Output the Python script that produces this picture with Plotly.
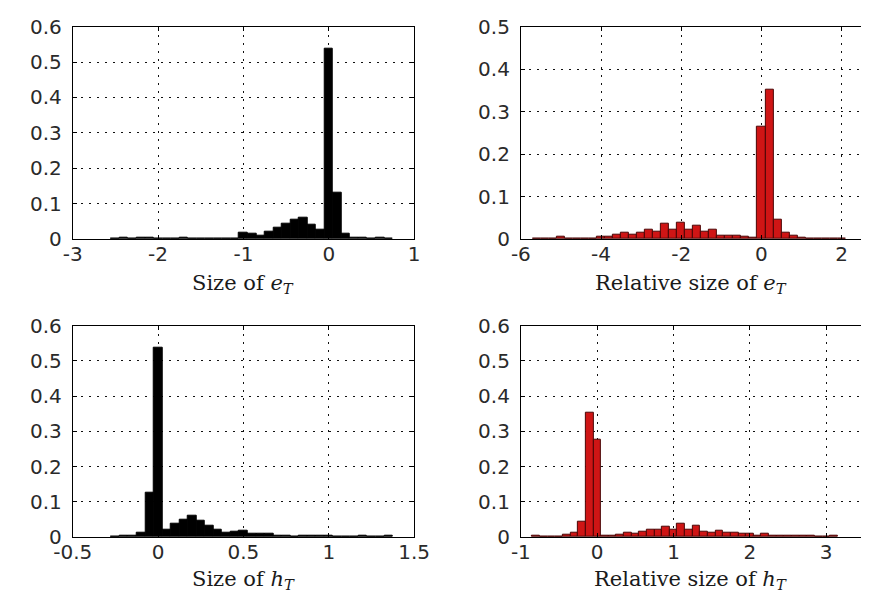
import plotly.graph_objects as go

# ---------------- data ----------------
# Top-left: Size of e_T (bin width 0.1)
e_size_centers = [-2.5, -2.4, -2.3, -2.2, -2.1, -2.0, -1.9, -1.8, -1.7, -1.6, -1.5, -1.4, -1.3, -1.2, -1.1,
                  -1.0, -0.9, -0.8, -0.7, -0.6, -0.5, -0.4, -0.3, -0.2, -0.1, 0.0, 0.1, 0.2, 0.3, 0.4,
                  0.5, 0.6, 0.7]
e_size_freq = [0.0, 0.003, 0.0, 0.003, 0.003, 0.0, 0.0, 0.0, 0.003, 0.0, 0.002, 0.002, 0.002, 0.002, 0.002,
               0.019, 0.015, 0.011, 0.022, 0.033, 0.043, 0.056, 0.061, 0.041, 0.027, 0.538, 0.130, 0.015, 0.005, 0.005,
               0.002, 0.005, 0.001]

# Top-right: Relative size of e_T (bin width 0.2)
e_rel_centers = [-5.6, -5.4, -5.2, -5.0, -4.8, -4.6, -4.4, -4.2, -4.0, -3.8, -3.6, -3.4, -3.2, -3.0,
                 -2.8, -2.6, -2.4, -2.2, -2.0, -1.8, -1.6, -1.4, -1.2, -1.0, -0.8, -0.6, -0.4, -0.2,
                 0.0, 0.2, 0.4, 0.6, 0.8, 1.0, 1.2, 1.4, 1.6, 1.8, 2.0]
e_rel_freq = [0.0, 0.002, 0.0, 0.006, 0.002, 0.002, 0.002, 0.002, 0.006, 0.006, 0.011, 0.014, 0.011, 0.014,
              0.021, 0.017, 0.036, 0.023, 0.039, 0.023, 0.032, 0.017, 0.021, 0.008, 0.008, 0.008, 0.006, 0.003,
              0.265, 0.351, 0.046, 0.014, 0.007, 0.003, 0.002, 0.001, 0.0, 0.0, 0.002]

# Bottom-left: Size of h_T (bin width 0.05)
h_size_centers = [-0.25, -0.2, -0.15, -0.1, -0.05, 0.0, 0.05, 0.1, 0.15, 0.2, 0.25, 0.3, 0.35, 0.4, 0.45,
                  0.5, 0.55, 0.6, 0.65, 0.7, 0.75, 0.8, 0.85, 0.9, 0.95, 1.0, 1.05, 1.1, 1.15, 1.2, 1.25,
                  1.3, 1.35]
h_size_freq = [0.0, 0.004, 0.004, 0.013, 0.127, 0.538, 0.021, 0.038, 0.048, 0.059, 0.045, 0.033, 0.021, 0.012, 0.014,
               0.018, 0.010, 0.010, 0.009, 0.004, 0.004, 0.001, 0.004, 0.004, 0.004, 0.005, 0.001, 0.0, 0.0, 0.004, 0.0,
               0.0, 0.004]

# Bottom-right: Relative size of h_T (bin width 0.1)
h_rel_centers = [-0.8, -0.7, -0.6, -0.5, -0.4, -0.3, -0.2, -0.1, 0.0, 0.1, 0.2, 0.3, 0.4, 0.5, 0.6, 0.7,
                 0.8, 0.9, 1.0, 1.1, 1.2, 1.3, 1.4, 1.5, 1.6, 1.7, 1.8, 1.9, 2.0, 2.1, 2.2, 2.3, 2.4,
                 2.5, 2.6, 2.7, 2.8, 2.9, 3.0, 3.1]
h_rel_freq = [0.004, 0.001, 0.001, 0.002, 0.006, 0.013, 0.043, 0.352, 0.276, 0.003, 0.003, 0.007, 0.012, 0.008,
              0.016, 0.020, 0.020, 0.029, 0.020, 0.038, 0.020, 0.033, 0.016, 0.012, 0.018, 0.013, 0.013, 0.008,
              0.008, 0.004, 0.010, 0.004, 0.003, 0.003, 0.003, 0.003, 0.003, 0.0, 0.0, 0.003]

# tick labels
tl_xticks = [-3, -2, -1, 0, 1]
tl_xtext = ["-3", "-2", "-1", "0", "1"]
tr_xticks = [-6, -4, -2, 0, 2]
tr_xtext = ["-6", "-4", "-2", "0", "2"]
bl_xticks = [-0.5, 0, 0.5, 1, 1.5]
bl_xtext = ["-0.5", "0", "0.5", "1", "1.5"]
br_xticks = [-1, 0, 1, 2, 3]
br_xtext = ["-1", "0", "1", "2", "3"]
y6_ticks = [0, 0.1, 0.2, 0.3, 0.4, 0.5, 0.6]
y6_text = ["0", "0.1", "0.2", "0.3", "0.4", "0.5", "0.6"]
y5_ticks = [0, 0.1, 0.2, 0.3, 0.4, 0.5]
y5_text = ["0", "0.1", "0.2", "0.3", "0.4", "0.5"]

titles = ["Size of <i>e</i><sub><i>T</i></sub>",
          "Relative size of <i>e</i><sub><i>T</i></sub>",
          "Size of <i>h</i><sub><i>T</i></sub>",
          "Relative size of <i>h</i><sub><i>T</i></sub>"]

# ---------------- figure ----------------
W, H = 877, 604
BLACK_FILL, BLACK_EDGE = "#000000", "#000000"
RED_FILL, RED_EDGE = "#cf1515", "#4a0606"

fig = go.Figure()
fig.add_trace(go.Bar(x=e_size_centers, y=e_size_freq, width=0.1, xaxis="x", yaxis="y",
                     marker=dict(color=BLACK_FILL, line=dict(color=BLACK_EDGE, width=1))))
fig.add_trace(go.Bar(x=e_rel_centers, y=e_rel_freq, width=0.2, xaxis="x2", yaxis="y2",
                     marker=dict(color=RED_FILL, line=dict(color=RED_EDGE, width=1))))
fig.add_trace(go.Bar(x=h_size_centers, y=h_size_freq, width=0.05, xaxis="x3", yaxis="y3",
                     marker=dict(color=BLACK_FILL, line=dict(color=BLACK_EDGE, width=1))))
fig.add_trace(go.Bar(x=h_rel_centers, y=h_rel_freq, width=0.1, xaxis="x4", yaxis="y4",
                     marker=dict(color=RED_FILL, line=dict(color=RED_EDGE, width=1))))

tickfont = dict(family="DejaVu Sans", size=20, color="#2a2a2a")
grid = dict(showgrid=True, gridcolor="#111111", gridwidth=1, griddash="2px,6px",
            zeroline=False, showline=True, linecolor="#000000", linewidth=1,
            ticks="inside", ticklen=4, tickcolor="#000000", tickfont=tickfont)

x_left = [55 / W, 411 / W]
x_right = [522.3 / W, 1.0]
y_top = [1 - 236.5 / H, 1 - 15.3 / H]
y_bot = [1 - 546.7 / H, 1 - 326.7 / H]

XS = -3  # x tick label standoff
YS = 6   # y tick label standoff

fig.update_layout(
    width=W, height=H,
    margin=dict(l=0, r=0, t=0, b=0),
    paper_bgcolor="white", plot_bgcolor="white",
    showlegend=False, bargap=0,
    xaxis=dict(domain=x_left, anchor="y", range=[-3, 1], tickvals=tl_xticks, ticktext=tl_xtext,
               mirror="ticks", ticklabelstandoff=XS, **grid),
    yaxis=dict(domain=y_top, anchor="x", range=[0, 0.6], tickvals=y6_ticks, ticktext=y6_text,
               mirror="ticks", ticklabelstandoff=YS, **grid),
    xaxis2=dict(domain=x_right, anchor="y2", range=[-6, 2.486], tickvals=tr_xticks, ticktext=tr_xtext,
                mirror="ticks", ticklabelstandoff=XS, **grid),
    yaxis2=dict(domain=y_top, anchor="x2", range=[0, 0.5], tickvals=y5_ticks, ticktext=y5_text,
                mirror=False, ticklabelstandoff=YS, **grid),
    xaxis3=dict(domain=x_left, anchor="y3", range=[-0.5, 1.5], tickvals=bl_xticks, ticktext=bl_xtext,
                mirror="ticks", ticklabelstandoff=XS, **grid),
    yaxis3=dict(domain=y_bot, anchor="x3", range=[0, 0.6], tickvals=y6_ticks, ticktext=y6_text,
                mirror="ticks", ticklabelstandoff=YS, **grid),
    xaxis4=dict(domain=x_right, anchor="y4", range=[-1, 3.456], tickvals=br_xticks, ticktext=br_xtext,
                mirror="ticks", ticklabelstandoff=XS, **grid),
    yaxis4=dict(domain=y_bot, anchor="x4", range=[0, 0.6], tickvals=y6_ticks, ticktext=y6_text,
                mirror=False, ticklabelstandoff=YS, **grid),
)

title_font = dict(family="DejaVu Serif", size=21, color="#1a1a1a")
title_pos = [((x_left[0] + x_left[1]) / 2, 1 - 283 / H),
             ((x_right[0] + x_right[1]) / 2, 1 - 283 / H),
             ((x_left[0] + x_left[1]) / 2, 1 - 591 / H),
             ((x_right[0] + x_right[1]) / 2, 1 - 591 / H)]
for txt, (px, py) in zip(titles, title_pos):
    fig.add_annotation(text=txt, x=px, y=py, xref="paper", yref="paper",
                       xanchor="center", yanchor="middle", showarrow=False, font=title_font)

fig.write_html("out.html")
